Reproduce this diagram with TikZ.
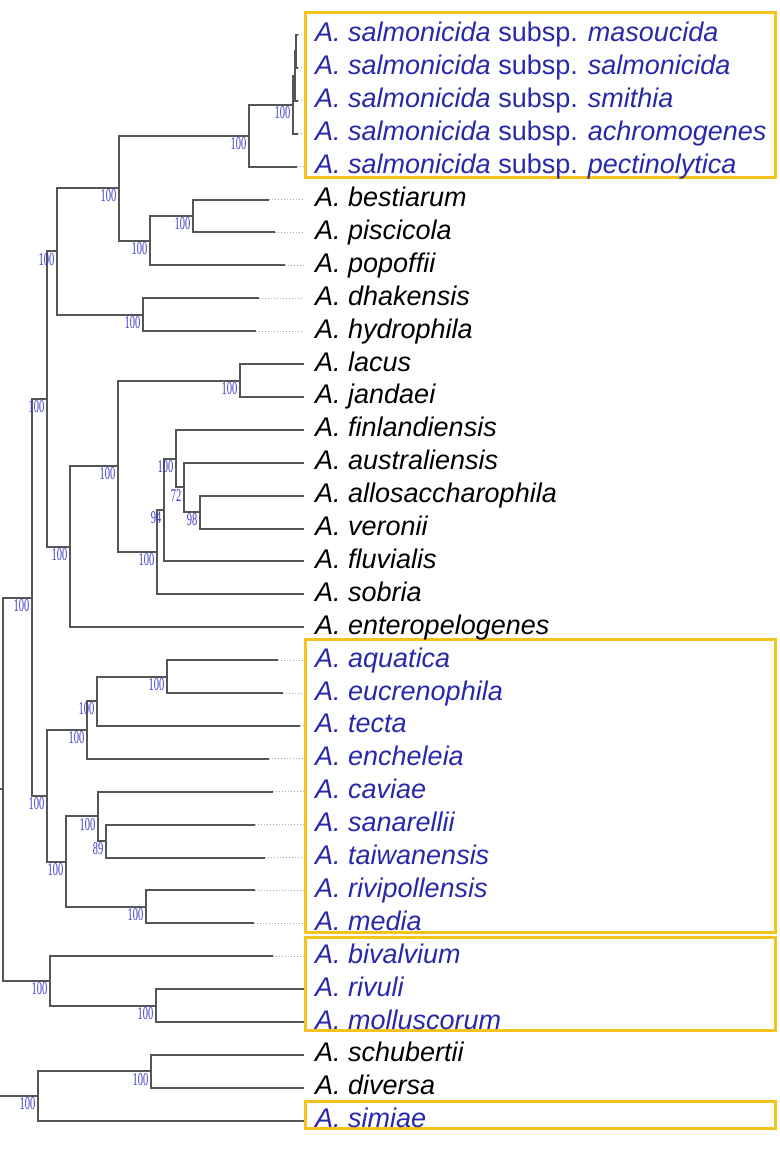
\documentclass[tikz,border=0pt]{standalone}
\usepackage{fontspec}
\setmainfont{Liberation Sans}
\newfontfamily\bootfont{Liberation Serif}

\definecolor{taxblue}{RGB}{40,40,170}
\definecolor{bootblue}{RGB}{60,60,200}
\definecolor{boxgold}{RGB}{245,195,30}
\definecolor{branchgray}{RGB}{85,85,85}

\newcommand{\bootval}[1]{\scalebox{0.58}[1]{#1}}

\tikzset{
  branch/.style={draw=branchgray, line width=2pt},
  leader/.style={draw=gray!70, dotted, line width=1pt},
  leaf/.style={anchor=west, inner xsep=11pt, inner ysep=0pt, text height=19pt, text depth=5pt,
    font=\fontsize{27}{27}\selectfont\itshape},
  hl/.style={leaf, text=taxblue},
  boot/.style={anchor=north east, inner xsep=2.5pt, inner ysep=1.5pt, text=bootblue,
    font=\bootfont\fontsize{18}{18}\selectfont},
  hlbox/.style={draw=boxgold, line width=3pt},
}

\begin{document}
\begin{tikzpicture}[x=1pt,y=-1pt]
    \useasboundingbox (0,0) rectangle (779,1156);

    % Highlight boxes
    \draw[hlbox] (305,13) rectangle (775,177);
    \draw[hlbox] (305,639) rectangle (775,932);
    \draw[hlbox] (305,937) rectangle (775,1030);
    \draw[hlbox] (305,1101) rectangle (775,1128);

    % Define the leaves
    \node[hl] (masoucida) at (304,35) {A. salmonicida {\upshape subsp.} masoucida};
    \node[hl] (salmonicida) at (304,67.9) {A. salmonicida {\upshape subsp.} salmonicida};
    \node[hl] (smithia) at (304,100.8) {A. salmonicida {\upshape subsp.} smithia};
    \node[hl] (achromogenes) at (304,133.7) {A. salmonicida {\upshape subsp.} achromogenes};
    \node[hl] (pectinolytica) at (304,166.6) {A. salmonicida {\upshape subsp.} pectinolytica};
    \node[leaf] (bestiarum) at (304,199.5) {A. bestiarum};
    \node[leaf] (piscicola) at (304,232.4) {A. piscicola};
    \node[leaf] (popoffii) at (304,265.3) {A. popoffii};
    \node[leaf] (dhakensis) at (304,298.2) {A. dhakensis};
    \node[leaf] (hydrophila) at (304,331.1) {A. hydrophila};
    \node[leaf] (lacus) at (304,364) {A. lacus};
    \node[leaf] (jandaei) at (304,396.9) {A. jandaei};
    \node[leaf] (finlandiensis) at (304,429.8) {A. finlandiensis};
    \node[leaf] (australiensis) at (304,462.7) {A. australiensis};
    \node[leaf] (allosaccharophila) at (304,495.6) {A. allosaccharophila};
    \node[leaf] (veronii) at (304,528.5) {A. veronii};
    \node[leaf] (fluvialis) at (304,561.4) {A. fluvialis};
    \node[leaf] (sobria) at (304,594.3) {A. sobria};
    \node[leaf] (enteropelogenes) at (304,627.2) {A. enteropelogenes};
    \node[hl] (aquatica) at (304,660.1) {A. aquatica};
    \node[hl] (eucrenophila) at (304,693) {A. eucrenophila};
    \node[hl] (tecta) at (304,725.9) {A. tecta};
    \node[hl] (encheleia) at (304,758.8) {A. encheleia};
    \node[hl] (caviae) at (304,791.7) {A. caviae};
    \node[hl] (sanarellii) at (304,824.6) {A. sanarellii};
    \node[hl] (taiwanensis) at (304,857.5) {A. taiwanensis};
    \node[hl] (rivipollensis) at (304,890.4) {A. rivipollensis};
    \node[hl] (media) at (304,923.3) {A. media};
    \node[hl] (bivalvium) at (304,956.2) {A. bivalvium};
    \node[hl] (rivuli) at (304,989.1) {A. rivuli};
    \node[hl] (molluscorum) at (304,1022) {A. molluscorum};
    \node[leaf] (schubertii) at (304,1054.9) {A. schubertii};
    \node[leaf] (diversa) at (304,1087.8) {A. diversa};
    \node[hl] (simiae) at (304,1120.7) {A. simiae};

    % Branch tips that end before the labels
    \coordinate (t1) at (298,35);
    \coordinate (t2) at (298,67.9);
    \coordinate (t3) at (298,100.8);
    \coordinate (t4) at (298,133.7);
    \coordinate (t5) at (297,166.6);
    \coordinate (t6) at (269,199.5);
    \coordinate (t7) at (275,232.4);
    \coordinate (t8) at (285,265.3);
    \coordinate (t9) at (259,298.2);
    \coordinate (t10) at (256,331.1);
    \coordinate (t20) at (278,660.1);
    \coordinate (t21) at (283,693);
    \coordinate (t22) at (300,725.9);
    \coordinate (t23) at (269,758.8);
    \coordinate (t24) at (273,791.7);
    \coordinate (t25) at (255,824.6);
    \coordinate (t26) at (265,857.5);
    \coordinate (t27) at (255,890.4);
    \coordinate (t28) at (254,923.3);
    \coordinate (t29) at (273,956.2);

    % Define the inner nodes
    \coordinate (w1) at (296,51.5);
    \coordinate (w2) at (295,76.2);
    \coordinate (w3) at (293,105);
    \coordinate (sal) at (249,135.8);
    \coordinate (bp) at (193,216);
    \coordinate (bpp) at (150,240.6);
    \coordinate (upper) at (119,188.2);
    \coordinate (dh) at (143,314.7);
    \coordinate (top) at (57,251.4);
    \coordinate (lj) at (240,380.5);
    \coordinate (av) at (200,512);
    \coordinate (aav) at (184,487.4);
    \coordinate (faav) at (176,458.6);
    \coordinate (vfl) at (164,510);
    \coordinate (vso) at (157,552.2);
    \coordinate (ljv) at (118,466.3);
    \coordinate (ent) at (70,546.8);
    \coordinate (hyd) at (47,399.1);
    \coordinate (ae) at (167,676.5);
    \coordinate (aet) at (97,701.2);
    \coordinate (aete) at (87,730);
    \coordinate (st) at (106,841);
    \coordinate (cst) at (98,816.4);
    \coordinate (rm) at (146,906.8);
    \coordinate (cav) at (66,861.6);
    \coordinate (lower) at (47,795.8);
    \coordinate (core) at (32,597.5);
    \coordinate (mo) at (156,1005.5);
    \coordinate (biv) at (50,980.9);
    \coordinate (root) at (3,789.2);
    \coordinate (sd) at (151,1071.4);
    \coordinate (out) at (38,1096);
    \coordinate (rootin) at (0,789.2);
    \coordinate (outin) at (0,1096);

    % Draw the branches
    \draw[branch] (w1) |- (t1) (w1) |- (t2);
    \draw[branch] (w2) |- (w1) (w2) |- (t3);
    \draw[branch] (w3) |- (w2) (w3) |- (t4);
    \draw[branch] (sal) |- (w3) (sal) |- (t5);
    \draw[branch] (bp) |- (t6) (bp) |- (t7);
    \draw[branch] (bpp) |- (bp) (bpp) |- (t8);
    \draw[branch] (upper) |- (sal) (upper) |- (bpp);
    \draw[branch] (dh) |- (t9) (dh) |- (t10);
    \draw[branch] (top) |- (upper) (top) |- (dh);

    \draw[branch] (lj) |- (lacus) (lj) |- (jandaei);
    \draw[branch] (av) |- (allosaccharophila) (av) |- (veronii);
    \draw[branch] (aav) |- (australiensis) (aav) |- (av);
    \draw[branch] (faav) |- (finlandiensis) (faav) |- (aav);
    \draw[branch] (vfl) |- (faav) (vfl) |- (fluvialis);
    \draw[branch] (vso) |- (vfl) (vso) |- (sobria);
    \draw[branch] (ljv) |- (lj) (ljv) |- (vso);
    \draw[branch] (ent) |- (ljv) (ent) |- (enteropelogenes);
    \draw[branch] (hyd) |- (top) (hyd) |- (ent);

    \draw[branch] (ae) |- (t20) (ae) |- (t21);
    \draw[branch] (aet) |- (ae) (aet) |- (t22);
    \draw[branch] (aete) |- (aet) (aete) |- (t23);
    \draw[branch] (st) |- (t25) (st) |- (t26);
    \draw[branch] (cst) |- (t24) (cst) |- (st);
    \draw[branch] (rm) |- (t27) (rm) |- (t28);
    \draw[branch] (cav) |- (cst) (cav) |- (rm);
    \draw[branch] (lower) |- (aete) (lower) |- (cav);
    \draw[branch] (core) |- (hyd) (core) |- (lower);

    \draw[branch] (mo) |- (rivuli) (mo) |- (molluscorum);
    \draw[branch] (biv) |- (t29) (biv) |- (mo);
    \draw[branch] (root) |- (core) (root) |- (biv);
    \draw[branch] (root) -- (rootin);

    \draw[branch] (sd) |- (schubertii) (sd) |- (diversa);
    \draw[branch] (out) |- (sd) (out) |- (simiae);
    \draw[branch] (out) -- (outin);

    % Dotted leaders to the labels
    \draw[leader] (t1) -- (masoucida);
    \draw[leader] (t2) -- (salmonicida);
    \draw[leader] (t3) -- (smithia);
    \draw[leader] (t4) -- (achromogenes);
    \draw[leader] (t5) -- (pectinolytica);
    \draw[leader] (t6) -- (bestiarum);
    \draw[leader] (t7) -- (piscicola);
    \draw[leader] (t8) -- (popoffii);
    \draw[leader] (t9) -- (dhakensis);
    \draw[leader] (t10) -- (hydrophila);
    \draw[leader] (t20) -- (aquatica);
    \draw[leader] (t21) -- (eucrenophila);
    \draw[leader] (t22) -- (tecta);
    \draw[leader] (t23) -- (encheleia);
    \draw[leader] (t24) -- (caviae);
    \draw[leader] (t25) -- (sanarellii);
    \draw[leader] (t26) -- (taiwanensis);
    \draw[leader] (t27) -- (rivipollensis);
    \draw[leader] (t28) -- (media);
    \draw[leader] (t29) -- (bivalvium);

    % Bootstrap values
    \node[boot] (bw3) at (w3) {\bootval{100}};
    \node[boot] (bsal) at (sal) {\bootval{100}};
    \node[boot] (bbp) at (bp) {\bootval{100}};
    \node[boot] (bbpp) at (bpp) {\bootval{100}};
    \node[boot] (bupper) at (upper) {\bootval{100}};
    \node[boot] (bdh) at (dh) {\bootval{100}};
    \node[boot] (btop) at (top) {\bootval{100}};
    \node[boot] (blj) at (lj) {\bootval{100}};
    \node[boot] (bav) at (av) {\bootval{98}};
    \node[boot] (baav) at (aav) {\bootval{72}};
    \node[boot] (bfaav) at (faav) {\bootval{100}};
    \node[boot] (bvfl) at (vfl) {\bootval{94}};
    \node[boot] (bvso) at (vso) {\bootval{100}};
    \node[boot] (bljv) at (ljv) {\bootval{100}};
    \node[boot] (bent) at (ent) {\bootval{100}};
    \node[boot] (bhyd) at (hyd) {\bootval{100}};
    \node[boot] (bae) at (ae) {\bootval{100}};
    \node[boot] (baet) at (aet) {\bootval{100}};
    \node[boot] (baete) at (aete) {\bootval{100}};
    \node[boot] (bst) at (st) {\bootval{89}};
    \node[boot] (bcst) at (cst) {\bootval{100}};
    \node[boot] (brm) at (rm) {\bootval{100}};
    \node[boot] (bcav) at (cav) {\bootval{100}};
    \node[boot] (blower) at (lower) {\bootval{100}};
    \node[boot] (bcore) at (core) {\bootval{100}};
    \node[boot] (bmo) at (mo) {\bootval{100}};
    \node[boot] (bbiv) at (biv) {\bootval{100}};
    \node[boot] (bsd) at (sd) {\bootval{100}};
    \node[boot] (bout) at (out) {\bootval{100}};
\end{tikzpicture}
\end{document}
